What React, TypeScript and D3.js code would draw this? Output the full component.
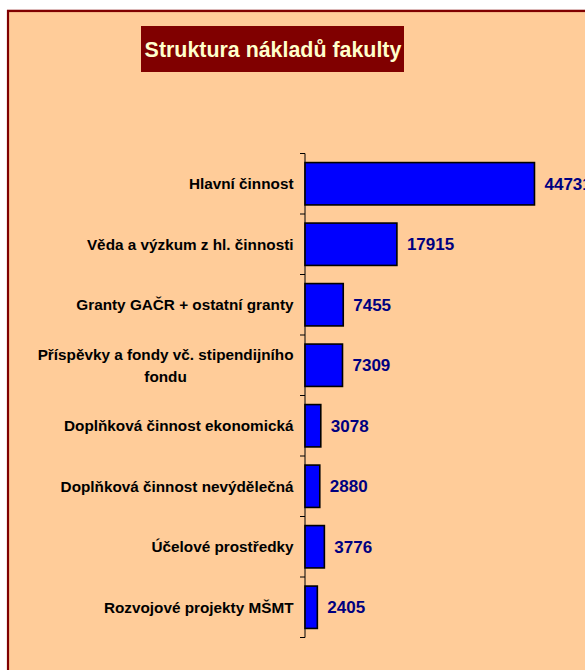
import React from "react";
import * as d3 from "d3";

const categories: string[][] = [
  ["Hlavní činnost"],
  ["Věda a výzkum z hl. činnosti"],
  ["Granty GAČR + ostatní granty"],
  ["Příspěvky a fondy vč. stipendijního", "fondu"],
  ["Doplňková činnost ekonomická"],
  ["Doplňková činnost nevýdělečná"],
  ["Účelové prostředky"],
  ["Rozvojové projekty MŠMT"],
];
const values: number[] = [44731, 17915, 7455, 7309, 3078, 2880, 3776, 2405];
const xDomain: number[] = [0, 50000];
const title = "Struktura nákladů fakulty";

const W = 585;
const H = 670;
const LABEL_SIZE = 15.3;
const labelFont = `bold ${LABEL_SIZE}px 'Liberation Sans', Arial, sans-serif`;

function measure(text: string, font: string): number {
  const c = document.createElement("canvas");
  const ctx = c.getContext("2d");
  if (!ctx) return text.length * 7.5;
  ctx.font = font;
  return ctx.measureText(text).width;
}

export default function App() {
  const axisX = 305;
  const x = d3.scaleLinear().domain(xDomain).range([axisX, axisX + 256.5]);
  const idx = categories.map((_, i) => String(i));
  const y = d3.scaleBand().domain(idx).range([153.5, 637.5]).paddingInner(0.3).paddingOuter(0.15);
  const step = y.step();
  const bandStart = 153.5;
  const labelRight = 293.5;

  return (
    <svg
      width={W}
      height={H}
      style={{ position: "absolute", left: 0, top: 0, display: "block" }}
      fontFamily="'Liberation Sans', Arial, sans-serif"
    >
      <rect x={0} y={0} width={W} height={H} fill="#ffffff" />
      <rect x={8} y={11} width={W + 20} height={H + 20} fill="#FFCC99" stroke="#800000" strokeWidth={2.2} />
      <line x1={7} y1={10} x2={W} y2={10} stroke="#800000" strokeWidth={0.8} opacity={0.5} />

      <rect x={141} y={26} width={263} height={46} fill="#800000" />
      <text x={273} y={56.5} textAnchor="middle" fill="#FFFFCC" fontSize={21.4} fontWeight="bold">
        {title}
      </text>

      {/* axis */}
      <line x1={axisX} y1={bandStart} x2={axisX} y2={bandStart + step * categories.length} stroke="#000" strokeWidth={1} />
      {d3.range(categories.length + 1).map((i) => (
        <line
          key={"t" + i}
          x1={axisX - 5}
          x2={axisX}
          y1={bandStart + i * step}
          y2={bandStart + i * step}
          stroke="#000"
          strokeWidth={1}
        />
      ))}

      {values.map((v, i) => (
        <rect
          key={"b" + i}
          x={x(0)}
          y={y(String(i))!}
          width={x(v) - x(0)}
          height={y.bandwidth()}
          fill="#0000FF"
          stroke="#000"
          strokeWidth={1.6}
        />
      ))}

      {values.map((v, i) => (
        <text
          key={"v" + i}
          x={x(v) + 10}
          y={y(String(i))! + y.bandwidth() / 2}
          dy="0.36em"
          fill="#000080"
          fontSize={17}
          fontWeight="bold"
        >
          {v}
        </text>
      ))}

      {categories.map((lines, i) => {
        const cy = bandStart + (i + 0.5) * step;
        if (lines.length === 1) {
          return (
            <text key={"c" + i} x={labelRight} y={cy} dy="0.36em" textAnchor="end" fontSize={LABEL_SIZE} fontWeight="bold" fill="#000">
              {lines[0]}
            </text>
          );
        }
        const w0 = measure(lines[0], labelFont);
        const cx = labelRight - w0 / 2;
        const lh = 21.5;
        return (
          <text key={"c" + i} textAnchor="middle" fontSize={LABEL_SIZE} fontWeight="bold" fill="#000">
            {lines.map((ln, j) => (
              <tspan key={j} x={cx} y={cy + (j - (lines.length - 1) / 2) * lh} dy="0.36em">
                {ln}
              </tspan>
            ))}
          </text>
        );
      })}
    </svg>
  );
}
